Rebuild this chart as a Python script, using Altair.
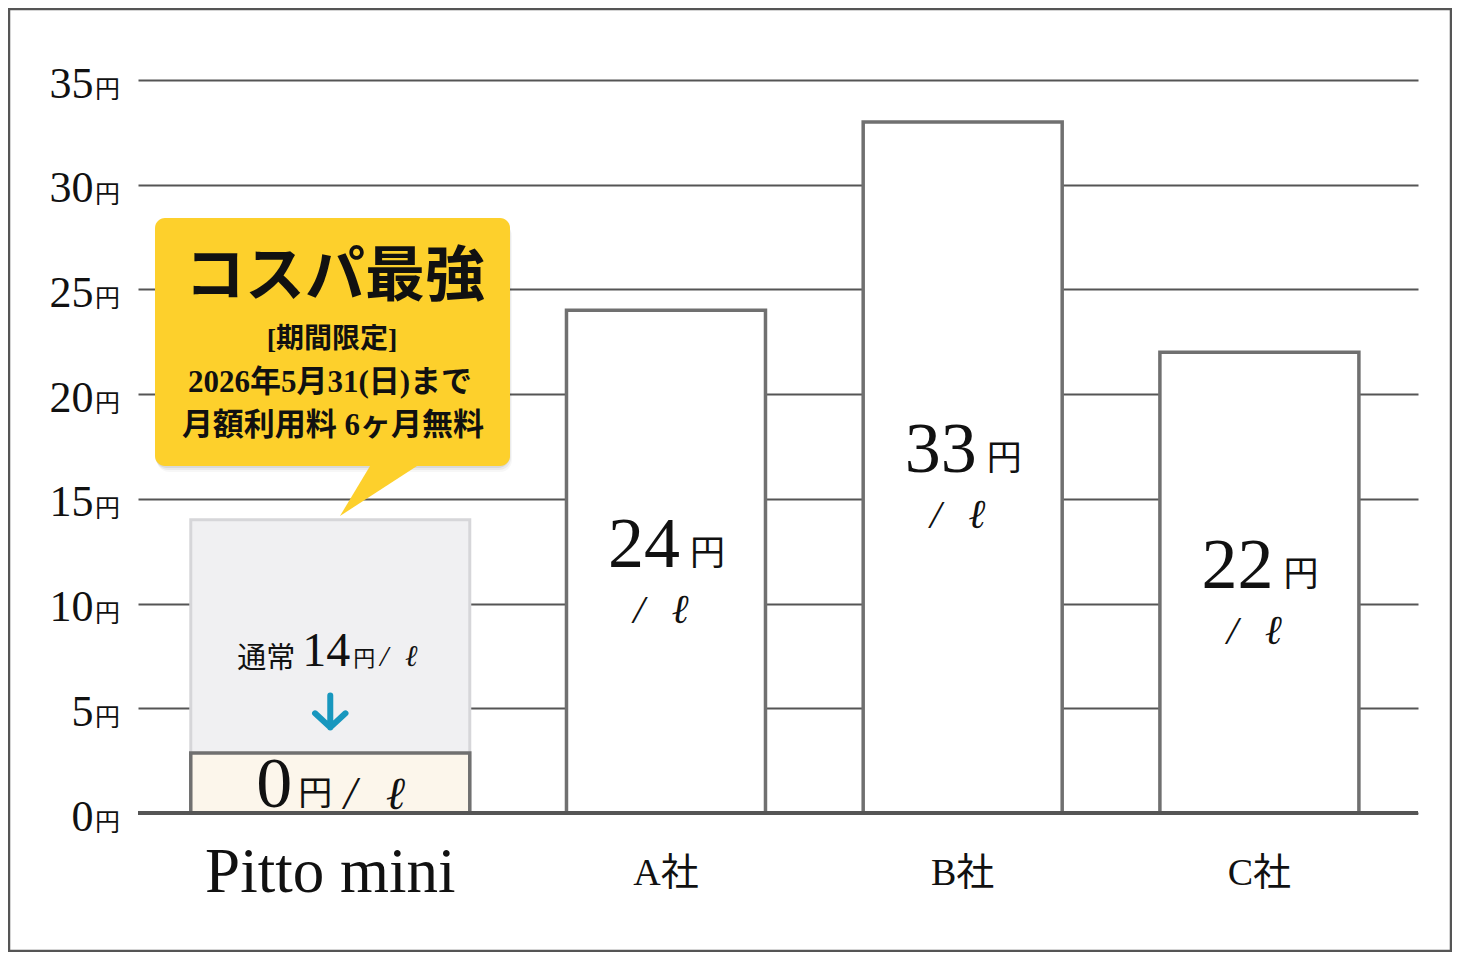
import altair as alt
import pandas as pd

# ---------------- data ----------------
categories = ["Pitto mini", "A社", "B社", "C社"]
prices = [0, 24, 33, 22]          # 円 / ℓ
pitto_normal_price = [14]         # usual price of Pitto mini
y_ticks = [0, 5, 10, 15, 20, 25, 30, 35]
callout_title = "コスパ最強"
callout_lines = ["[期間限定]", "2026年5月31(日)まで", "月額利用料 6ヶ月無料"]
normal_label = "通常"
unit_yen = "円"
unit_slash = "/"
unit_litre = "ℓ"

# ---------------- style ----------------
W, H = 1280, 733
INK = "#111111"
GRID = "#555555"
BAR_STROKE = "#707070"
YELLOW = "#fdd02c"
ARROW = "#1897be"
SERIF = "Liberation Serif, 'Noto Sans CJK JP', serif"
CJK = "'Noto Sans CJK JP', sans-serif"
PITTO_SHIFT = -39

df = pd.DataFrame({"cat": categories, "price": prices})
pitto = df[df.cat == categories[0]].copy()
pitto["normal"] = pitto_normal_price
pitto["nmid"] = pitto["normal"] / 2
rivals = df[df.cat != categories[0]].copy()
rivals["mid"] = rivals["price"] / 2
ticks_df = pd.DataFrame({"v": y_ticks})
one = pd.DataFrame({"a": [0]})

xscale = alt.Scale(domain=categories, paddingInner=0, paddingOuter=0.157, align=0.89)
yscale = alt.Scale(domain=[0, 35], nice=False, zero=True)
AXIS_Y = alt.Axis(
    values=y_ticks, format="d", title=None, grid=True, gridColor=GRID,
    gridWidth=2, domain=False, ticks=False, tickSize=0, labelPadding=45,
    labelFont="Liberation Serif", labelFontSize=44, labelColor=INK,
    labelBaseline="alphabetic", labelOffset=17, labelFlush=False,
    labelOverlap=False,
)


def X():
    return alt.X("cat:N", scale=xscale, axis=None)


def Y(field):
    return alt.Y(field, scale=yscale, axis=AXIS_Y, stack=None)


# rival bars
bars = alt.Chart(rivals).mark_bar(
    width=199, fill="white", stroke=BAR_STROKE, strokeWidth=3.5
).encode(x=X(), y=Y("price:Q"))

# Pitto mini: usual-price box and 0-yen box
pitto_normal_box = alt.Chart(pitto).mark_bar(
    width=279, xOffset=PITTO_SHIFT, fill="#f0f0f2", stroke="#d6d6d9", strokeWidth=3
).encode(x=X(), y=Y("normal:Q"))

pitto_zero_box = alt.Chart(pitto).mark_bar(
    width=279, xOffset=PITTO_SHIFT, fill="#fcf6eb", stroke=BAR_STROKE, strokeWidth=3.5
).encode(x=X(), y=Y("price:Q"), y2=alt.value(H - 60))

zero_rule = alt.Chart(pitto).mark_rule(color=GRID, strokeWidth=4).encode(y=Y("price:Q"))

# rival bar labels
r_num = alt.Chart(rivals).mark_text(
    font="Liberation Serif", fontSize=72, align="right", baseline="alphabetic",
    dx=14, dy=5, color=INK
).encode(x=X(), y=Y("mid:Q"), text=alt.Text("price:Q", format="d"))
r_yen = alt.Chart(rivals).mark_text(
    font=CJK, fontSize=35, align="left", baseline="alphabetic", dx=24, dy=3, color=INK
).encode(x=X(), y=Y("mid:Q"), text=alt.value(unit_yen))
r_slash = alt.Chart(rivals).mark_text(
    font="Liberation Serif", fontSize=41, fontStyle="italic", align="center",
    baseline="alphabetic", dx=-27, dy=61, color=INK
).encode(x=X(), y=Y("mid:Q"), text=alt.value(unit_slash))
r_litre = alt.Chart(rivals).mark_text(
    font="Liberation Serif", fontSize=41, fontStyle="italic", align="center",
    baseline="alphabetic", dx=14, dy=61, color=INK
).encode(x=X(), y=Y("mid:Q"), text=alt.value(unit_litre))

# Pitto labels
p_kw = dict(xOffset=PITTO_SHIFT, color=INK, baseline="alphabetic")
p_normal = alt.Chart(pitto).mark_text(font=CJK, fontSize=29, align="right", dx=-35, dy=2, **p_kw).encode(
    x=X(), y=Y("nmid:Q"), text=alt.value(normal_label))
p_normal_num = alt.Chart(pitto).mark_text(font="Liberation Serif", fontSize=48, align="left", dx=-28, **p_kw).encode(
    x=X(), y=Y("nmid:Q"), text=alt.Text("normal:Q", format="d"))
p_normal_yen = alt.Chart(pitto).mark_text(font=CJK, fontSize=22, align="left", dx=23, **p_kw).encode(
    x=X(), y=Y("nmid:Q"), text=alt.value(unit_yen))
p_normal_slash = alt.Chart(pitto).mark_text(font="Liberation Serif", fontSize=30, fontStyle="italic", align="center", dx=54, **p_kw).encode(
    x=X(), y=Y("nmid:Q"), text=alt.value(unit_slash))
p_normal_litre = alt.Chart(pitto).mark_text(font="Liberation Serif", fontSize=30, fontStyle="italic", align="center", dx=81, **p_kw).encode(
    x=X(), y=Y("nmid:Q"), text=alt.value(unit_litre))
p_arrow = alt.Chart(pitto).mark_point(
    shape="M0,-1L0,1M-0.95,0.12L0,1L0.95,0.12", filled=False, stroke=ARROW,
    strokeWidth=6, size=1024, opacity=1, strokeCap="round", strokeJoin="round",
    xOffset=PITTO_SHIFT, yOffset=45,
).encode(x=X(), y=Y("nmid:Q"))
p_zero_num = alt.Chart(pitto).mark_text(font="Liberation Serif", fontSize=72, align="right", dx=-38, dy=-6, **p_kw).encode(
    x=X(), y=Y("price:Q"), text=alt.Text("price:Q", format="d"))
p_zero_yen = alt.Chart(pitto).mark_text(font=CJK, fontSize=34, align="left", dx=-32, dy=-8, **p_kw).encode(
    x=X(), y=Y("price:Q"), text=alt.value(unit_yen))
p_zero_slash = alt.Chart(pitto).mark_text(font="Liberation Serif", fontSize=46, fontStyle="italic", align="center", dx=20, dy=-4, **p_kw).encode(
    x=X(), y=Y("price:Q"), text=alt.value(unit_slash))
p_zero_litre = alt.Chart(pitto).mark_text(font="Liberation Serif", fontSize=46, fontStyle="italic", align="center", dx=65, dy=-4, **p_kw).encode(
    x=X(), y=Y("price:Q"), text=alt.value(unit_litre))

# callout balloon
shadows = [
    alt.Chart(one).mark_rect(fill="black", opacity=op, cornerRadius=12).encode(
        x=alt.value(17 + dx), x2=alt.value(372 + dx), y=alt.value(138 + dy), y2=alt.value(386 + dy))
    for dx, dy, op in [(0, 2, 0.07), (1, 4, 0.05), (2, 6, 0.03)]
]
balloon = alt.Chart(one).mark_rect(fill=YELLOW, cornerRadius=10).encode(
    x=alt.value(17), x2=alt.value(372), y=alt.value(138), y2=alt.value(386))
tail = alt.Chart(one).mark_point(
    shape="M-0.106,-0.638L0.994,-0.638L-0.809,0.532Z", filled=True, color=YELLOW,
    opacity=1, size=94 * 94, strokeWidth=0,
).encode(x=alt.value(240), y=alt.value(411))
c_title = alt.Chart(one).mark_text(font=CJK, fontSize=60, fontWeight="bold", color=INK, baseline="middle").encode(
    x=alt.value(197), y=alt.value(198), text=alt.value(callout_title))
c_lines = [
    alt.Chart(one).mark_text(font=SERIF, fontSize=fs, fontWeight="bold", color=INK, baseline="middle").encode(
        x=alt.value(cx), y=alt.value(cy), text=alt.value(t))
    for t, cx, cy, fs in zip(callout_lines, [194, 192, 195], [260, 303, 346], [28, 31, 31])
]

# category labels
x_lab_pitto = alt.Chart(pitto).mark_text(
    font="Liberation Serif", fontSize=63, baseline="alphabetic", xOffset=PITTO_SHIFT, color=INK
).encode(x=X(), y=alt.value(H + 79), text="cat:N")
x_lab_rivals = alt.Chart(rivals).mark_text(
    font=SERIF, fontSize=38, baseline="alphabetic", color=INK
).encode(x=X(), y=alt.value(H + 72), text="cat:N")

# 円 after the y tick numbers
y_yen = alt.Chart(ticks_df).mark_text(
    font=CJK, fontSize=25, align="left", baseline="alphabetic", dy=18, color=INK
).encode(x=alt.value(-43), y=Y("v:Q"), text=alt.value(unit_yen))

# outer frame
frame = alt.Chart(one).mark_rect(fill="white", fillOpacity=0, stroke=GRID, strokeWidth=2.5).encode(
    x=alt.value(-129), x2=alt.value(W + 33), y=alt.value(-71), y2=alt.value(H + 138))

chart = alt.layer(
    bars, pitto_normal_box, pitto_zero_box, zero_rule,
    r_num, r_yen, r_slash, r_litre,
    p_normal, p_normal_num, p_normal_yen, p_normal_slash, p_normal_litre, p_arrow,
    p_zero_num, p_zero_yen, p_zero_slash, p_zero_litre,
    *shadows, balloon, tail, c_title, *c_lines,
    x_lab_pitto, x_lab_rivals, y_yen, frame,
).properties(
    width=W, height=H,
    autosize=alt.AutoSizeParams(type="none"),
    padding={"left": 130, "top": 72, "right": 34, "bottom": 139},
    background="white",
).configure_view(stroke=None)

chart.save("out.html", embed_options={"renderer": "svg", "actions": False})
